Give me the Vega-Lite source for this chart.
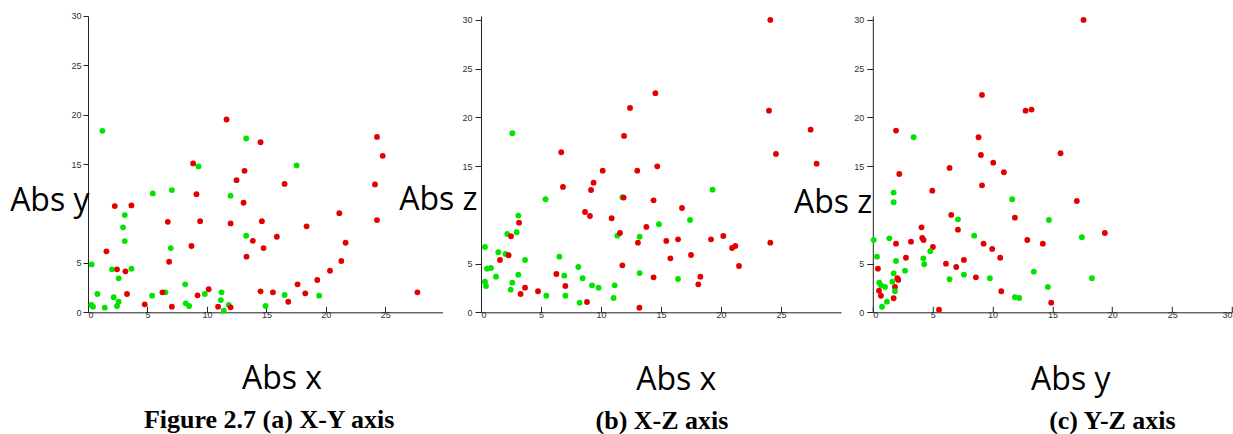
{
  "$schema": "https://vega.github.io/schema/vega-lite/v6.json",
  "autosize": {"type": "none"},
  "padding": {"left": 88, "top": 16, "right": 1145, "bottom": 130},
  "background": "white",
  "config": {
    "view": {"stroke": null},
    "axis": {
      "grid": false,
      "domainColor": "#222",
      "tickColor": "#222",
      "labelColor": "#333",
      "labelFont": "Liberation Sans",
      "labelFontSize": 9,
      "titleFont": "Open Sans",
      "titleFontSize": 32,
      "titleFontWeight": "normal",
      "titleColor": "#000"
    },
    "title": {"font": "Liberation Serif", "fontSize": 26, "fontWeight": "bold", "color": "#000", "orient": "bottom", "anchor": "middle", "frame": "group", "offset": 13}
  },
  "datasets": {
    "xy": [
      {"abs_x": 1.21, "abs_y": 18.37, "c": "g"}, {"abs_x": 9.29, "abs_y": 14.77, "c": "g"}, {"abs_x": 5.45, "abs_y": 12.04, "c": "g"}, {"abs_x": 7.05, "abs_y": 12.37, "c": "g"},
      {"abs_x": 3.09, "abs_y": 9.84, "c": "g"}, {"abs_x": 2.95, "abs_y": 8.6, "c": "g"}, {"abs_x": 3.09, "abs_y": 7.21, "c": "g"}, {"abs_x": 6.96, "abs_y": 6.5, "c": "g"},
      {"abs_x": 0.31, "abs_y": 4.85, "c": "g"}, {"abs_x": 2.02, "abs_y": 4.35, "c": "g"}, {"abs_x": 3.65, "abs_y": 4.41, "c": "g"}, {"abs_x": 2.58, "abs_y": 3.44, "c": "g"},
      {"abs_x": 0.79, "abs_y": 1.85, "c": "g"}, {"abs_x": 2.16, "abs_y": 1.52, "c": "g"}, {"abs_x": 8.17, "abs_y": 2.83, "c": "g"}, {"abs_x": 5.39, "abs_y": 1.68, "c": "g"},
      {"abs_x": 6.51, "abs_y": 2.02, "c": "g"}, {"abs_x": 0.28, "abs_y": 0.74, "c": "g"}, {"abs_x": 0.42, "abs_y": 0.57, "c": "g"}, {"abs_x": 1.41, "abs_y": 0.47, "c": "g"},
      {"abs_x": 2.58, "abs_y": 1.07, "c": "g"}, {"abs_x": 2.44, "abs_y": 0.64, "c": "g"}, {"abs_x": 8.22, "abs_y": 0.91, "c": "g"}, {"abs_x": 8.5, "abs_y": 0.64, "c": "g"},
      {"abs_x": 9.82, "abs_y": 1.85, "c": "g"}, {"abs_x": 13.3, "abs_y": 17.6, "c": "g"}, {"abs_x": 17.54, "abs_y": 14.87, "c": "g"}, {"abs_x": 11.99, "abs_y": 11.8, "c": "g"},
      {"abs_x": 13.3, "abs_y": 7.75, "c": "g"}, {"abs_x": 11.23, "abs_y": 2.02, "c": "g"}, {"abs_x": 11.17, "abs_y": 1.24, "c": "g"}, {"abs_x": 11.84, "abs_y": 0.74, "c": "g"},
      {"abs_x": 11.42, "abs_y": 0.16, "c": "g"}, {"abs_x": 14.93, "abs_y": 0.64, "c": "g"}, {"abs_x": 16.53, "abs_y": 1.75, "c": "g"}, {"abs_x": 19.44, "abs_y": 1.68, "c": "g"},
      {"abs_x": 8.84, "abs_y": 15.07, "c": "r"}, {"abs_x": 9.12, "abs_y": 11.96, "c": "r"}, {"abs_x": 2.25, "abs_y": 10.75, "c": "r"}, {"abs_x": 3.65, "abs_y": 10.82, "c": "r"},
      {"abs_x": 6.71, "abs_y": 9.16, "c": "r"}, {"abs_x": 9.43, "abs_y": 9.23, "c": "r"}, {"abs_x": 1.55, "abs_y": 6.17, "c": "r"}, {"abs_x": 8.7, "abs_y": 6.71, "c": "r"},
      {"abs_x": 6.82, "abs_y": 5.12, "c": "r"}, {"abs_x": 2.44, "abs_y": 4.35, "c": "r"}, {"abs_x": 3.15, "abs_y": 4.15, "c": "r"}, {"abs_x": 3.28, "abs_y": 1.85, "c": "r"},
      {"abs_x": 6.26, "abs_y": 2.02, "c": "r"}, {"abs_x": 4.77, "abs_y": 0.81, "c": "r"}, {"abs_x": 7.05, "abs_y": 0.57, "c": "r"}, {"abs_x": 9.21, "abs_y": 1.72, "c": "r"},
      {"abs_x": 10.15, "abs_y": 2.33, "c": "r"}, {"abs_x": 11.65, "abs_y": 19.52, "c": "r"}, {"abs_x": 14.51, "abs_y": 17.22, "c": "r"}, {"abs_x": 24.3, "abs_y": 17.76, "c": "r"},
      {"abs_x": 24.78, "abs_y": 15.84, "c": "r"}, {"abs_x": 13.16, "abs_y": 14.32, "c": "r"}, {"abs_x": 12.49, "abs_y": 13.38, "c": "r"}, {"abs_x": 16.53, "abs_y": 13.0, "c": "r"},
      {"abs_x": 13.08, "abs_y": 11.09, "c": "r"}, {"abs_x": 24.13, "abs_y": 12.95, "c": "r"}, {"abs_x": 11.99, "abs_y": 9.0, "c": "r"}, {"abs_x": 14.62, "abs_y": 9.23, "c": "r"},
      {"abs_x": 21.13, "abs_y": 10.04, "c": "r"}, {"abs_x": 24.3, "abs_y": 9.34, "c": "r"}, {"abs_x": 18.38, "abs_y": 8.7, "c": "r"}, {"abs_x": 13.86, "abs_y": 7.24, "c": "r"},
      {"abs_x": 15.88, "abs_y": 7.65, "c": "r"}, {"abs_x": 14.76, "abs_y": 6.5, "c": "r"}, {"abs_x": 13.33, "abs_y": 5.63, "c": "r"}, {"abs_x": 21.66, "abs_y": 7.04, "c": "r"},
      {"abs_x": 21.3, "abs_y": 5.19, "c": "r"}, {"abs_x": 20.35, "abs_y": 4.21, "c": "r"}, {"abs_x": 19.28, "abs_y": 3.27, "c": "r"}, {"abs_x": 17.62, "abs_y": 2.83, "c": "r"},
      {"abs_x": 18.27, "abs_y": 1.92, "c": "r"}, {"abs_x": 14.51, "abs_y": 2.12, "c": "r"}, {"abs_x": 15.55, "abs_y": 2.02, "c": "r"}, {"abs_x": 16.84, "abs_y": 1.07, "c": "r"},
      {"abs_x": 10.94, "abs_y": 0.57, "c": "r"}, {"abs_x": 11.99, "abs_y": 0.5, "c": "r"}, {"abs_x": 27.7, "abs_y": 2.02, "c": "r"}
    ],
    "xz": [
      {"abs_x": 2.61, "abs_z": 18.37, "c": "g"}, {"abs_x": 5.38, "abs_z": 11.6, "c": "g"}, {"abs_x": 3.11, "abs_z": 9.92, "c": "g"}, {"abs_x": 2.97, "abs_z": 8.21, "c": "g"},
      {"abs_x": 2.19, "abs_z": 8.04, "c": "g"}, {"abs_x": 0.33, "abs_z": 6.7, "c": "g"}, {"abs_x": 1.44, "abs_z": 6.16, "c": "g"}, {"abs_x": 2.05, "abs_z": 5.98, "c": "g"},
      {"abs_x": 3.67, "abs_z": 5.37, "c": "g"}, {"abs_x": 0.5, "abs_z": 4.48, "c": "g"}, {"abs_x": 0.83, "abs_z": 4.55, "c": "g"}, {"abs_x": 1.25, "abs_z": 3.66, "c": "g"},
      {"abs_x": 3.11, "abs_z": 3.86, "c": "g"}, {"abs_x": 0.33, "abs_z": 3.14, "c": "g"}, {"abs_x": 0.42, "abs_z": 2.7, "c": "g"}, {"abs_x": 2.61, "abs_z": 3.04, "c": "g"},
      {"abs_x": 2.47, "abs_z": 2.32, "c": "g"}, {"abs_x": 6.53, "abs_z": 5.71, "c": "g"}, {"abs_x": 6.94, "abs_z": 3.76, "c": "g"}, {"abs_x": 5.44, "abs_z": 1.7, "c": "g"},
      {"abs_x": 7.03, "abs_z": 1.7, "c": "g"}, {"abs_x": 8.11, "abs_z": 4.65, "c": "g"}, {"abs_x": 8.47, "abs_z": 3.49, "c": "g"}, {"abs_x": 8.22, "abs_z": 0.99, "c": "g"},
      {"abs_x": 9.25, "abs_z": 2.77, "c": "g"}, {"abs_x": 9.8, "abs_z": 2.53, "c": "g"}, {"abs_x": 11.14, "abs_z": 2.77, "c": "g"}, {"abs_x": 11.05, "abs_z": 1.47, "c": "g"},
      {"abs_x": 11.36, "abs_z": 7.86, "c": "g"}, {"abs_x": 11.78, "abs_z": 11.8, "c": "g"}, {"abs_x": 13.22, "abs_z": 7.76, "c": "g"}, {"abs_x": 13.22, "abs_z": 4.02, "c": "g"},
      {"abs_x": 19.3, "abs_z": 12.58, "c": "g"}, {"abs_x": 17.42, "abs_z": 9.47, "c": "g"}, {"abs_x": 14.83, "abs_z": 9.03, "c": "g"}, {"abs_x": 16.42, "abs_z": 3.42, "c": "g"},
      {"abs_x": 12.42, "abs_z": 20.97, "c": "r"}, {"abs_x": 11.92, "abs_z": 18.1, "c": "r"}, {"abs_x": 6.69, "abs_z": 16.42, "c": "r"}, {"abs_x": 10.14, "abs_z": 14.53, "c": "r"},
      {"abs_x": 13.02, "abs_z": 14.53, "c": "r"}, {"abs_x": 6.83, "abs_z": 12.86, "c": "r"}, {"abs_x": 9.38, "abs_z": 13.3, "c": "r"}, {"abs_x": 9.17, "abs_z": 12.55, "c": "r"},
      {"abs_x": 11.89, "abs_z": 11.77, "c": "r"}, {"abs_x": 8.67, "abs_z": 10.29, "c": "r"}, {"abs_x": 9.08, "abs_z": 9.88, "c": "r"}, {"abs_x": 3.17, "abs_z": 9.2, "c": "r"},
      {"abs_x": 10.89, "abs_z": 9.65, "c": "r"}, {"abs_x": 11.58, "abs_z": 8.14, "c": "r"}, {"abs_x": 2.5, "abs_z": 7.8, "c": "r"}, {"abs_x": 2.3, "abs_z": 5.85, "c": "r"},
      {"abs_x": 1.58, "abs_z": 5.37, "c": "r"}, {"abs_x": 13.08, "abs_z": 7.14, "c": "r"}, {"abs_x": 11.78, "abs_z": 4.82, "c": "r"}, {"abs_x": 6.28, "abs_z": 3.93, "c": "r"},
      {"abs_x": 7.03, "abs_z": 2.7, "c": "r"}, {"abs_x": 3.67, "abs_z": 2.53, "c": "r"}, {"abs_x": 3.3, "abs_z": 1.88, "c": "r"}, {"abs_x": 4.75, "abs_z": 2.16, "c": "r"},
      {"abs_x": 8.83, "abs_z": 1.06, "c": "r"}, {"abs_x": 13.2, "abs_z": 0.47, "c": "r"}, {"abs_x": 24.11, "abs_z": 30.0, "c": "r"}, {"abs_x": 14.53, "abs_z": 22.48, "c": "r"},
      {"abs_x": 24.0, "abs_z": 20.69, "c": "r"}, {"abs_x": 27.47, "abs_z": 18.74, "c": "r"}, {"abs_x": 24.58, "abs_z": 16.25, "c": "r"}, {"abs_x": 27.97, "abs_z": 15.25, "c": "r"},
      {"abs_x": 14.69, "abs_z": 14.98, "c": "r"}, {"abs_x": 14.38, "abs_z": 11.49, "c": "r"}, {"abs_x": 16.75, "abs_z": 10.7, "c": "r"}, {"abs_x": 13.78, "abs_z": 8.76, "c": "r"},
      {"abs_x": 15.44, "abs_z": 7.32, "c": "r"}, {"abs_x": 16.42, "abs_z": 7.49, "c": "r"}, {"abs_x": 19.17, "abs_z": 7.49, "c": "r"}, {"abs_x": 20.19, "abs_z": 7.83, "c": "r"},
      {"abs_x": 20.92, "abs_z": 6.6, "c": "r"}, {"abs_x": 21.19, "abs_z": 6.8, "c": "r"}, {"abs_x": 15.78, "abs_z": 5.54, "c": "r"}, {"abs_x": 17.5, "abs_z": 5.88, "c": "r"},
      {"abs_x": 21.5, "abs_z": 4.75, "c": "r"}, {"abs_x": 24.11, "abs_z": 7.14, "c": "r"}, {"abs_x": 14.38, "abs_z": 3.59, "c": "r"}, {"abs_x": 18.28, "abs_z": 3.66, "c": "r"},
      {"abs_x": 18.11, "abs_z": 2.87, "c": "r"}
    ],
    "yz": [
      {"abs_y": 9.12, "abs_z": 22.3, "c": "r"}, {"abs_y": 1.94, "abs_z": 18.64, "c": "r"}, {"abs_y": 8.83, "abs_z": 17.96, "c": "r"}, {"abs_y": 9.03, "abs_z": 16.14, "c": "r"},
      {"abs_y": 10.06, "abs_z": 15.35, "c": "r"}, {"abs_y": 10.95, "abs_z": 14.37, "c": "r"}, {"abs_y": 6.41, "abs_z": 14.81, "c": "r"}, {"abs_y": 2.21, "abs_z": 14.19, "c": "r"},
      {"abs_y": 9.12, "abs_z": 13.03, "c": "r"}, {"abs_y": 4.97, "abs_z": 12.48, "c": "r"}, {"abs_y": 12.76, "abs_z": 20.69, "c": "r"}, {"abs_y": 13.26, "abs_z": 20.8, "c": "r"},
      {"abs_y": 6.55, "abs_z": 9.99, "c": "r"}, {"abs_y": 7.11, "abs_z": 8.48, "c": "r"}, {"abs_y": 11.87, "abs_z": 9.71, "c": "r"}, {"abs_y": 4.07, "abs_z": 8.72, "c": "r"},
      {"abs_y": 4.13, "abs_z": 7.63, "c": "r"}, {"abs_y": 4.24, "abs_z": 7.42, "c": "r"}, {"abs_y": 3.19, "abs_z": 7.25, "c": "r"}, {"abs_y": 1.94, "abs_z": 7.04, "c": "r"},
      {"abs_y": 5.02, "abs_z": 6.7, "c": "r"}, {"abs_y": 9.25, "abs_z": 7.04, "c": "r"}, {"abs_y": 9.97, "abs_z": 6.5, "c": "r"}, {"abs_y": 12.9, "abs_z": 7.42, "c": "r"},
      {"abs_y": 2.77, "abs_z": 5.6, "c": "r"}, {"abs_y": 10.64, "abs_z": 5.6, "c": "r"}, {"abs_y": 7.61, "abs_z": 5.37, "c": "r"}, {"abs_y": 6.11, "abs_z": 4.99, "c": "r"},
      {"abs_y": 6.97, "abs_z": 4.65, "c": "r"}, {"abs_y": 0.43, "abs_z": 4.48, "c": "r"}, {"abs_y": 8.61, "abs_z": 3.59, "c": "r"}, {"abs_y": 2.05, "abs_z": 3.49, "c": "r"},
      {"abs_y": 2.13, "abs_z": 3.32, "c": "r"}, {"abs_y": 1.85, "abs_z": 2.6, "c": "r"}, {"abs_y": 0.52, "abs_z": 2.22, "c": "r"}, {"abs_y": 0.68, "abs_z": 1.7, "c": "r"},
      {"abs_y": 1.74, "abs_z": 1.44, "c": "r"}, {"abs_y": 10.73, "abs_z": 2.16, "c": "r"}, {"abs_y": 5.53, "abs_z": 0.27, "c": "r"}, {"abs_y": 17.6, "abs_z": 30.0, "c": "r"},
      {"abs_y": 15.68, "abs_z": 16.32, "c": "r"}, {"abs_y": 17.04, "abs_z": 11.42, "c": "r"}, {"abs_y": 19.38, "abs_z": 8.14, "c": "r"}, {"abs_y": 14.2, "abs_z": 7.04, "c": "r"},
      {"abs_y": 14.9, "abs_z": 0.99, "c": "r"},
      {"abs_y": 3.41, "abs_z": 17.96, "c": "g"}, {"abs_y": 11.64, "abs_z": 11.6, "c": "g"}, {"abs_y": 7.11, "abs_z": 9.54, "c": "g"}, {"abs_y": 8.47, "abs_z": 7.86, "c": "g"},
      {"abs_y": 0.07, "abs_z": 7.42, "c": "g"}, {"abs_y": 1.38, "abs_z": 7.59, "c": "g"}, {"abs_y": 4.8, "abs_z": 6.26, "c": "g"}, {"abs_y": 4.22, "abs_z": 5.54, "c": "g"},
      {"abs_y": 4.3, "abs_z": 4.93, "c": "g"}, {"abs_y": 0.35, "abs_z": 5.71, "c": "g"}, {"abs_y": 1.94, "abs_z": 5.27, "c": "g"}, {"abs_y": 2.69, "abs_z": 4.27, "c": "g"},
      {"abs_y": 1.74, "abs_z": 4.0, "c": "g"}, {"abs_y": 0.54, "abs_z": 3.04, "c": "g"}, {"abs_y": 0.68, "abs_z": 2.77, "c": "g"}, {"abs_y": 1.02, "abs_z": 2.6, "c": "g"},
      {"abs_y": 1.63, "abs_z": 3.14, "c": "g"}, {"abs_y": 1.85, "abs_z": 2.16, "c": "g"}, {"abs_y": 0.77, "abs_z": 0.57, "c": "g"}, {"abs_y": 1.18, "abs_z": 1.09, "c": "g"},
      {"abs_y": 6.41, "abs_z": 3.39, "c": "g"}, {"abs_y": 7.61, "abs_z": 3.86, "c": "g"}, {"abs_y": 9.78, "abs_z": 3.49, "c": "g"}, {"abs_y": 11.87, "abs_z": 1.54, "c": "g"},
      {"abs_y": 12.23, "abs_z": 1.47, "c": "g"}, {"abs_y": 1.74, "abs_z": 12.28, "c": "g"}, {"abs_y": 1.74, "abs_z": 11.29, "c": "g"}, {"abs_y": 14.71, "abs_z": 9.47, "c": "g"},
      {"abs_y": 17.46, "abs_z": 7.7, "c": "g"}, {"abs_y": 13.45, "abs_z": 4.17, "c": "g"}, {"abs_y": 18.3, "abs_z": 3.49, "c": "g"}, {"abs_y": 14.62, "abs_z": 2.6, "c": "g"}
    ]
  },
  "bounds": "flush",
  "spacing": 38,
  "hconcat": [
    {
      "data": {"name": "xy"},
      "width": 354.4,
      "height": 296.3,
      "title": {"text": "Figure 2.7 (a) X-Y axis", "dx": 4},
      "mark": {"type": "point", "filled": true, "size": 34, "opacity": 1},
      "encoding": {
        "x": {"field": "abs_x", "type": "quantitative", "scale": {"domain": [0, 29.8], "nice": false},
          "axis": {"values": [0, 5, 10, 15, 20, 25], "tickSize": -6, "labelPadding": 4, "title": "Abs x", "titleX": 193.5, "titleY": 76, "titleAlign": "center", "titleBaseline": "alphabetic"}},
        "y": {"field": "abs_y", "type": "quantitative", "scale": {"domain": [0, 30], "nice": false},
          "axis": {"values": [0, 5, 15, 20, 25, 30], "tickSize": 5, "labelPadding": 2, "title": "Abs y", "titleAngle": 0, "titleX": 1, "titleY": 194.5, "titleAlign": "right", "titleBaseline": "alphabetic"}},
        "color": {"field": "c", "type": "nominal", "scale": {"domain": ["g", "r"], "range": ["#00e400", "#e40000"]}, "legend": null}
      }
    },
    {
      "bounds": "flush",
      "spacing": 31.8,
      "hconcat": [
        {
          "data": {"name": "xz"},
          "width": 360,
          "height": 296.3,
          "title": {"text": "(b) X-Z axis", "dx": 1},
          "mark": {"type": "point", "filled": true, "size": 34, "opacity": 1},
          "encoding": {
            "x": {"field": "abs_x", "type": "quantitative", "scale": {"domain": [0, 30], "nice": false},
              "axis": {"values": [0, 5, 10, 15, 20, 25], "tickSize": -6, "labelPadding": 4, "title": "Abs x", "titleX": 194.8, "titleY": 77, "titleAlign": "center", "titleBaseline": "alphabetic"}},
            "y": {"field": "abs_z", "type": "quantitative", "scale": {"domain": [0, 30.4], "nice": false},
              "axis": {"values": [0, 5, 15, 20, 25, 30], "tickSize": 6, "labelPadding": 3, "title": "Abs z", "titleAngle": 0, "titleX": -4, "titleY": 194, "titleAlign": "right", "titleBaseline": "alphabetic"}},
            "color": {"field": "c", "type": "nominal", "scale": {"domain": ["g", "r"], "range": ["#00e400", "#e40000"]}, "legend": null}
          }
        },
        {
          "data": {"name": "yz"},
          "width": 359.2,
          "height": 296.3,
          "title": {"text": "(c) Y-Z axis", "dx": 60},
          "mark": {"type": "point", "filled": true, "size": 34, "opacity": 1},
          "encoding": {
            "x": {"field": "abs_y", "type": "quantitative", "scale": {"domain": [0, 30], "nice": false},
              "axis": {"values": [0, 5, 10, 15, 20, 25, 30], "tickSize": -6, "labelPadding": 4, "title": "Abs y", "titleX": 197.5, "titleY": 77, "titleAlign": "center", "titleBaseline": "alphabetic"}},
            "y": {"field": "abs_z", "type": "quantitative", "scale": {"domain": [0, 30.4], "nice": false},
              "axis": {"values": [0, 5, 15, 20, 25, 30], "tickSize": 6, "labelPadding": 3, "title": "Abs z", "titleAngle": 0, "titleX": -1, "titleY": 197, "titleAlign": "right", "titleBaseline": "alphabetic"}},
            "color": {"field": "c", "type": "nominal", "scale": {"domain": ["g", "r"], "range": ["#00e400", "#e40000"]}, "legend": null}
          }
        }
      ]
    }
  ]
}
